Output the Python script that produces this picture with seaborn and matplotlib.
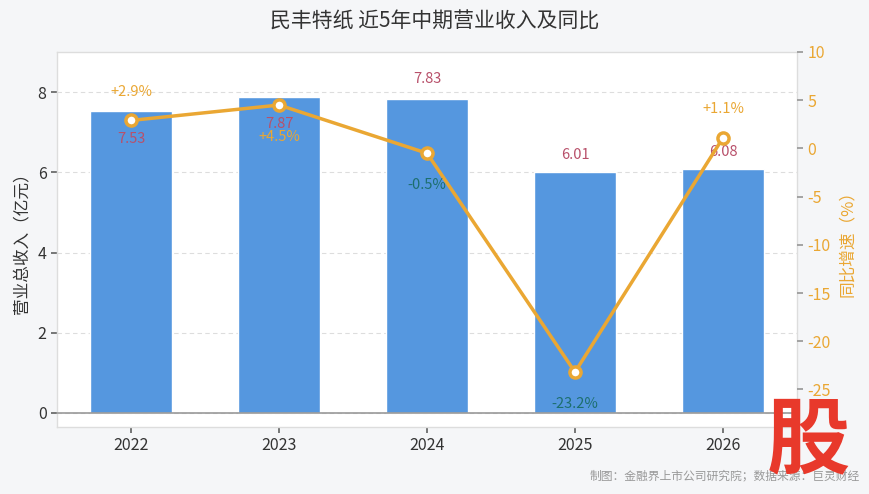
import matplotlib
matplotlib.use('Agg')
import matplotlib.pyplot as plt
import seaborn as sns
import numpy as np
import pandas as pd

# data
years = ['2022', '2023', '2024', '2025', '2026']
revenue = [7.53, 7.87, 7.83, 6.01, 6.08]
growth = [2.9, 4.5, -0.5, -23.2, 1.1]
rev_offsets = [-28, -27, 20, 17, 17]      # label above / below bar top (px)
growth_offsets = [28, -32, -32, -32, 29]  # label above / below point (px)

sns.set_theme(style='white')
plt.rcParams['font.family'] = ['Noto Sans CJK SC', 'DejaVu Sans']
plt.rcParams['axes.unicode_minus'] = False

bar_color = '#5597df'
line_color = '#eaa733'
text_dark = '#333333'

df = pd.DataFrame({'year': years, 'revenue': revenue, 'growth': growth})

fig = plt.figure(figsize=(8.7, 4.94), dpi=100)
fig.patch.set_facecolor('#f5f6f8')
ax = fig.add_axes([57/870, 1-427/494, 740/870, 375/494])
ax.set_facecolor('white')

sns.barplot(data=df, x='year', y='revenue', color=bar_color, width=0.56,
            saturation=1, ax=ax, zorder=2)
ax.set_xlim(-0.5, 4.5)
ax.set_ylim(-0.35, 9.0)
ax.set_yticks([0, 2, 4, 6, 8])
ax.yaxis.grid(True, linestyle=(0, (4, 3)), color='#dddddd', linewidth=0.8, zorder=0)
ax.axhline(0, color='#999999', linewidth=1.2, zorder=3)
for s in ax.spines.values():
    s.set_color('#dddddd')
    s.set_linewidth(1)
ax.tick_params(axis='both', labelsize=11.5, colors=text_dark, length=4,
               direction='out', bottom=True, left=True, color='#666666')
ax.set_xlabel('')
ax.set_ylabel('营业总收入（亿元）', fontsize=12, color=text_dark, labelpad=5)

for i, v in enumerate(revenue):
    ax.annotate(f'{v:.2f}', (i, v), xytext=(0, rev_offsets[i]), textcoords='offset pixels',
                ha='center', va='center', fontsize=10.5, color='#b8506a', zorder=6)

ax2 = ax.twinx()
sns.lineplot(x=np.arange(len(years)), y=growth, ax=ax2, color=line_color, linewidth=2.5,
             marker='o', markersize=8, markerfacecolor='white',
             markeredgecolor=line_color, markeredgewidth=2.5, zorder=5)
ax2.set_ylim(-28.9, 10)
ax2.set_yticks([10, 5, 0, -5, -10, -15, -20, -25])
ax2.tick_params(axis='y', labelsize=11.5, colors=line_color, length=4, right=True,
                color='#999999')
ax2.set_ylabel('同比增速（%）', fontsize=12, color=line_color, rotation=90, labelpad=6)
for s in ax2.spines.values():
    s.set_visible(False)

for i, g in enumerate(growth):
    c = line_color if g >= 0 else '#1d6f6e'
    ax2.annotate(f'{g:+.1f}%', (i, g), xytext=(0, growth_offsets[i]), textcoords='offset pixels',
                 ha='center', va='center', fontsize=10.5, color=c, zorder=6)

fig.text(435/870, 1-22/494, '民丰特纸 近5年中期营业收入及同比', ha='center', va='center',
         fontsize=15, color=text_dark)
fig.text(860/870, 1-476/494, '制图：金融界上市公司研究院；数据来源：巨灵财经', ha='right',
         va='center', fontsize=8.5, color='#999999')
fig.text(808/870, 1-442/494, '股', ha='center', va='center', fontsize=60,
         fontweight='bold', color='#e8392b', style='italic')

fig.savefig('out.png', dpi=100, facecolor=fig.get_facecolor())
